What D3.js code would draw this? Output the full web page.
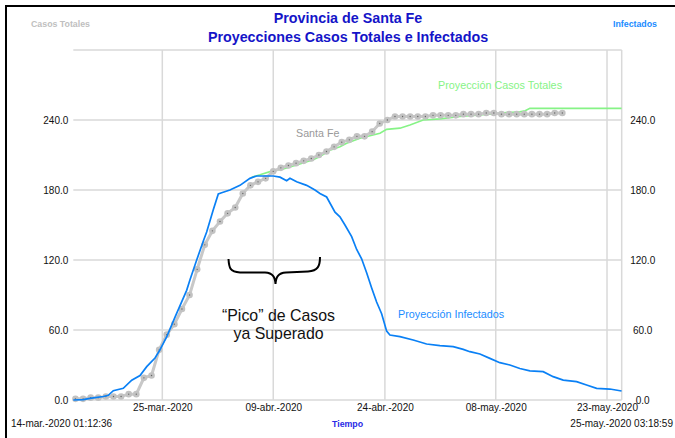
<!DOCTYPE html>
<html>
<head>
<meta charset="utf-8">
<script src="https://cdn.jsdelivr.net/npm/d3@7"></script>
<style>
  body { margin: 0; background: #fff; }
  svg { display: block; font-family: "Liberation Sans", Arial, sans-serif; }
  .grid line { stroke: #d9d9d9; stroke-width: 1.5; }
  .axis text { font-size: 10px; fill: #111; }
  .axis path { display: none; }
</style>
</head>
<body>
<div id="chart"></div>
<script>
const width = 675,
      height = 438,
      margin = {top: 50, right: 53.3, bottom: 38, left: 73.3};

const startTime = new Date(2020, 2, 14, 1, 12, 36),
      endTime = new Date(2020, 4, 25, 3, 18, 59);

const meses = ['ene', 'feb', 'mar', 'abr', 'may', 'jun', 'jul', 'ago', 'sep', 'oct', 'nov', 'dic'];

// gridline dates (Vensim-style spacing, not whole days)
const xTicks = [
  new Date(2020, 2, 25, 18, 0),
  new Date(2020, 3, 9, 8, 0),
  new Date(2020, 3, 24, 0, 15),
  new Date(2020, 4, 8, 14, 0),
  new Date(2020, 4, 23, 5, 0)
];
const yTicks = [0, 60, 120, 180, 240];

// Santa Fe: confirmed cases, one per day from 14-mar
const santaFeStart = new Date(2020, 2, 14, 8, 0);
const santaFe = [
  1, 1, 2, 2, 3, 3, 3, 5, 5, 19,
  21, 43, 56, 65, 78, 90, 112, 133, 145, 153,
  160, 165, 177, 184, 187, 190, 196, 199, 201, 203,
  205, 207, 210, 213, 217, 221, 223, 226, 226, 230,
  237, 240, 243, 243, 243, 243, 243, 244, 244, 244,
  244, 245, 245, 245, 246, 246, 245, 245, 245, 245,
  245, 245, 245, 246, 246
];

// Proyección Infectados (days since start, value)
const infDays = [
  0, 1.31, 2.19, 3.94, 4.6, 5.26, 6.57, 7.68, 8.77, 9.65,
  10.74, 11.39, 12.27, 13.37, 14.9, 15.34, 16.22, 17.08, 17.53, 18.4,
  19.06, 19.5, 20.59, 21.91, 23.22, 24.1, 24.97, 26.28, 27.17, 28.05,
  28.48, 29.36, 30.67, 31.77, 32.42, 33.3, 34.4, 35.05, 35.71, 36.59,
  37.25, 37.9, 38.56, 39.22, 39.87, 40.53, 41.19, 41.62, 42.94, 44.68,
  46.44, 48.19, 49.94, 51.26, 52.13, 53.45, 54.76, 56.07, 57.39, 58.7,
  60.02, 61.77, 63.08, 64.4, 66.16, 67.47, 68.79, 70.53, 72.07
];
const infValues = [
  0, 0.3, 1.4, 3, 4, 8, 10, 17, 21, 28.6,
  36, 43, 54, 71, 94, 103, 120, 136, 144, 163,
  176.6, 177.7, 180, 184, 190, 192, 192, 192, 191, 188,
  190, 187, 184, 180, 177, 174, 161, 157, 150, 140,
  129, 121, 109, 96, 84, 74, 59, 55.7, 54.3, 51.4,
  48, 46.6, 45.7, 43.4, 41.4, 39.4, 35.7, 32, 30, 27,
  25, 24.3, 20, 17, 15.7, 12.9, 10, 9.4, 7.7
];

// Proyección Casos Totales (days since start, value)
const totDays = [
  23.45, 24.54, 26.28, 27.6, 29.36, 31.54, 32.42, 33.73, 35.05, 35.93,
  37.68, 40.31, 41.19, 42.94, 44.25, 46.0, 48.19, 50.82, 53.45, 56.96,
  58.7, 59.4, 60.02, 72.07
];
const totValues = [
  191, 193, 196.6, 198, 201.4, 206, 208.6, 214, 217, 220,
  224.3, 228.6, 232, 233, 235.7, 240, 241, 243, 244.3, 246.3,
  247, 248, 250, 250
];

const DAY = 86400000;
const dayToDate = d => new Date(startTime.getTime() + d * DAY);

const fmtDate = d => `${d3.timeFormat('%d')(d)}-${meses[d.getMonth()]}.-${d.getFullYear()}`;

const svg = d3.select('#chart').append('svg')
    .attr('width', width)
    .attr('height', height);

// frame (only top and left visible)
svg.append('path')
    .attr('d', `M6,${height + 5}V6H${width + 5}`)
    .attr('fill', 'none')
    .attr('stroke', '#000')
    .attr('stroke-width', 2);

const x = d3.scaleTime()
    .domain([startTime, endTime])
    .range([margin.left, width - margin.right]);

const y = d3.scaleLinear()
    .domain([0, 300])
    .range([height - margin.bottom, margin.top]);

// gridlines
const grid = svg.append('g').attr('class', 'grid');
grid.selectAll('.hgrid')
    .data(yTicks.concat([300]))
    .enter().append('line')
    .attr('x1', x.range()[0])
    .attr('x2', x.range()[1])
    .attr('y1', d => y(d))
    .attr('y2', d => y(d));
grid.selectAll('.vgrid')
    .data(xTicks.concat([endTime]))
    .enter().append('line')
    .attr('x1', d => x(d))
    .attr('x2', d => x(d))
    .attr('y1', y.range()[0])
    .attr('y2', y.range()[1]);

// axes
const yAxisL = d3.axisLeft(y).tickValues(yTicks).tickFormat(d3.format('.1f')).tickSize(0).tickPadding(5);
svg.append('g')
    .attr('class', 'axis')
    .attr('transform', `translate(${margin.left}, 0)`)
    .call(yAxisL);

const yAxisR = d3.axisRight(y).tickValues(yTicks).tickFormat(d3.format('.1f')).tickSize(0).tickPadding(21);
svg.append('g')
    .attr('class', 'axis')
    .attr('transform', `translate(${width - margin.right}, 0)`)
    .call(yAxisR)
    .selectAll('text')
    .attr('text-anchor', 'middle');

const xAxis = d3.axisBottom(x).tickValues(xTicks).tickFormat(fmtDate).tickSize(0).tickPadding(4);
svg.append('g')
    .attr('class', 'axis')
    .attr('transform', `translate(0, ${height - margin.bottom})`)
    .call(xAxis);

// green projection
const totLine = d3.line()
    .x((d, i) => x(dayToDate(totDays[i])))
    .y(d => y(d));
svg.append('path')
    .datum(totValues)
    .attr('fill', 'none')
    .attr('stroke', '#86f386')
    .attr('stroke-width', 1.6)
    .attr('d', totLine);

// Santa Fe gray line + dots
const sfDate = i => new Date(santaFeStart.getTime() + i * DAY);
const sfLine = d3.line()
    .x((d, i) => x(sfDate(i)))
    .y(d => y(d));
svg.append('path')
    .datum(santaFe)
    .attr('fill', 'none')
    .attr('stroke', '#c8c8c8')
    .attr('stroke-width', 3)
    .attr('d', sfLine);

const dots = svg.append('g');
dots.selectAll('.dot')
    .data(santaFe)
    .enter().append('circle')
    .attr('cx', (d, i) => x(sfDate(i)))
    .attr('cy', d => y(d))
    .attr('r', 3.3)
    .attr('fill', '#c2c2c2');
dots.selectAll('.core')
    .data(santaFe)
    .enter().append('circle')
    .attr('cx', (d, i) => x(sfDate(i)))
    .attr('cy', d => y(d))
    .attr('r', 0.7)
    .attr('fill', '#666');

// blue projection
const infLine = d3.line()
    .x((d, i) => x(dayToDate(infDays[i])))
    .y(d => y(d));
svg.append('path')
    .datum(infValues)
    .attr('fill', 'none')
    .attr('stroke', '#0a80f5')
    .attr('stroke-width', 1.7)
    .attr('d', infLine);

// titles
svg.append('text')
    .attr('x', 348).attr('y', 23)
    .attr('text-anchor', 'middle')
    .style('font-size', '14.3px').style('font-weight', 'bold')
    .attr('fill', '#1414c8')
    .text('Provincia de Santa Fe');
svg.append('text')
    .attr('x', 348).attr('y', 42)
    .attr('text-anchor', 'middle')
    .style('font-size', '14.3px').style('font-weight', 'bold')
    .attr('fill', '#1414c8')
    .text('Proyecciones Casos Totales e Infectados');

svg.append('text')
    .attr('x', 31).attr('y', 27)
    .style('font-size', '8.8px').style('font-weight', 'bold')
    .attr('fill', '#c0c0c0')
    .text('Casos Totales');
svg.append('text')
    .attr('x', 613).attr('y', 27)
    .style('font-size', '8.8px').style('font-weight', 'bold')
    .attr('fill', '#1a8cff')
    .text('Infectados');

// bottom row
svg.append('text')
    .attr('x', 11).attr('y', 427)
    .style('font-size', '10px')
    .attr('fill', '#111')
    .text('14-mar.-2020 01:12:36');
svg.append('text')
    .attr('x', 332).attr('y', 427)
    .style('font-size', '8.8px').style('font-weight', 'bold')
    .attr('fill', '#2a2ae6')
    .text('Tiempo');
svg.append('text')
    .attr('x', 673).attr('y', 427)
    .attr('text-anchor', 'end')
    .style('font-size', '10px')
    .attr('fill', '#111')
    .text('25-may.-2020 03:18:59');

// series labels
svg.append('text')
    .attr('x', 296).attr('y', 137)
    .style('font-size', '10.7px')
    .attr('fill', '#999')
    .text('Santa Fe');
svg.append('text')
    .attr('x', 438).attr('y', 89)
    .style('font-size', '10.8px')
    .attr('fill', '#86f386')
    .text('Proyección Casos Totales');
svg.append('text')
    .attr('x', 398).attr('y', 318)
    .style('font-size', '10.8px')
    .attr('fill', '#1a8cff')
    .text('Proyección Infectados');

// annotation: brace + text
const brace = d3.path();
brace.moveTo(228.5, 259);
brace.bezierCurveTo(229, 268, 230, 272, 240, 272.5);
brace.lineTo(265, 272.5);
brace.bezierCurveTo(273, 273, 275, 277, 275.5, 284);
brace.moveTo(275.5, 284);
brace.bezierCurveTo(276, 277, 278, 273, 286, 272.5);
brace.lineTo(308, 271.5);
brace.bezierCurveTo(318, 271, 320, 266, 320, 257);
svg.append('path')
    .attr('d', brace.toString())
    .attr('fill', 'none')
    .attr('stroke', '#000')
    .attr('stroke-width', 2);

svg.append('text')
    .attr('x', 278.5).attr('y', 321)
    .attr('text-anchor', 'middle')
    .style('font-size', '15.9px')
    .attr('fill', '#111')
    .text('“Pico” de Casos');
svg.append('text')
    .attr('x', 278.5).attr('y', 339)
    .attr('text-anchor', 'middle')
    .style('font-size', '15.9px')
    .attr('fill', '#111')
    .text('ya Superado');
</script>
</body>
</html>
